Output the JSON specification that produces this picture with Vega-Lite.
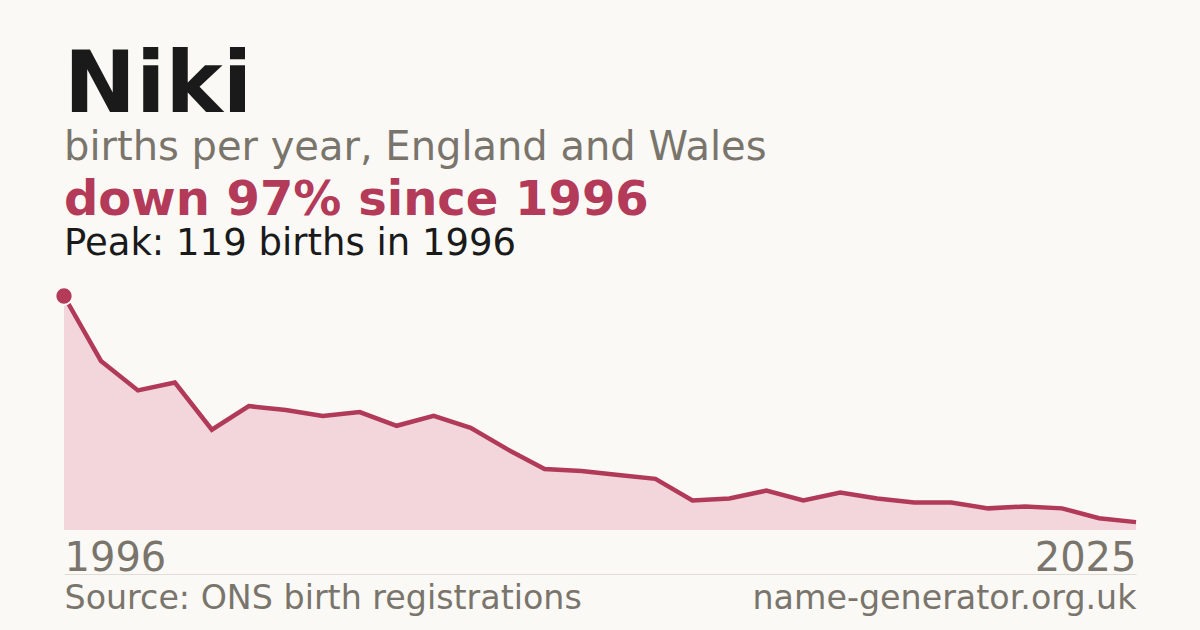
{
  "$schema": "https://vega.github.io/schema/vega-lite/v6.json",
  "width": 1072,
  "height": 234,
  "autosize": {"type": "none"},
  "padding": {"left": 64, "top": 296, "right": 64, "bottom": 100},
  "background": "#faf9f5",
  "title": {
    "text": "Niki",
    "subtitle": "births per year, England and Wales",
    "anchor": "start",
    "frame": "group",
    "font": "DejaVu Sans",
    "fontSize": 86,
    "fontWeight": "bold",
    "color": "#1a1a1a",
    "subtitleFont": "DejaVu Sans",
    "subtitleFontSize": 40,
    "subtitleColor": "#7a756c",
    "offset": 8,
    "subtitlePadding": -2
  },
  "config": {"view": {"stroke": null}},
  "data": {
    "values": [
      {"year": 1996, "births": 119},
      {"year": 1997, "births": 86},
      {"year": 1998, "births": 71},
      {"year": 1999, "births": 75},
      {"year": 2000, "births": 51},
      {"year": 2001, "births": 63},
      {"year": 2002, "births": 61},
      {"year": 2003, "births": 58},
      {"year": 2004, "births": 60},
      {"year": 2005, "births": 53},
      {"year": 2006, "births": 58},
      {"year": 2007, "births": 52},
      {"year": 2008, "births": 41},
      {"year": 2009, "births": 31},
      {"year": 2010, "births": 30},
      {"year": 2011, "births": 28},
      {"year": 2012, "births": 26},
      {"year": 2013, "births": 15},
      {"year": 2014, "births": 16},
      {"year": 2015, "births": 20},
      {"year": 2016, "births": 15},
      {"year": 2017, "births": 19},
      {"year": 2018, "births": 16},
      {"year": 2019, "births": 14},
      {"year": 2020, "births": 14},
      {"year": 2021, "births": 11},
      {"year": 2022, "births": 12},
      {"year": 2023, "births": 11},
      {"year": 2024, "births": 6},
      {"year": 2025, "births": 4}
    ]
  },
  "resolve": {"axis": {"x": "independent"}},
  "layer": [
    {
      "mark": {"type": "area", "color": "#f2d6dc", "opacity": 1},
      "encoding": {
        "x": {
          "field": "year", "type": "quantitative",
          "scale": {"domain": [1996, 2025], "nice": false, "zero": false},
          "axis": {
            "orient": "bottom", "values": [1996, 2025], "title": null,
            "domain": false, "ticks": false, "tickSize": 0, "grid": false,
            "labelFlush": true, "labelOverlap": false, "labelBound": false, "labelLimit": 0,
            "labelBaseline": "alphabetic", "labelPadding": 40,
            "labelFont": "DejaVu Sans", "labelFontSize": 40, "labelColor": "#7a756c",
            "format": "d"
          }
        },
        "y": {
          "field": "births", "type": "quantitative",
          "scale": {"domain": [0, 119], "nice": false},
          "axis": null
        }
      }
    },
    {
      "mark": {"type": "line", "color": "#b13a58", "strokeWidth": 4.5},
      "encoding": {
        "x": {
          "field": "year", "type": "quantitative",
          "axis": {
            "orient": "bottom", "offset": 44, "values": [1996, 2025], "title": null,
            "domain": true, "domainColor": "#e0ddd6", "domainWidth": 1,
            "ticks": false, "tickSize": 0, "grid": false,
            "labelFlush": true, "labelOverlap": false, "labelBound": false, "labelLimit": 0,
            "labelBaseline": "alphabetic", "labelPadding": 34,
            "labelFont": "DejaVu Sans", "labelFontSize": 33.3, "labelColor": "#7a756c",
            "labelExpr": "datum.value == 1996 ? 'Source: ONS birth registrations' : 'name-generator.org.uk'"
          }
        },
        "y": {"field": "births", "type": "quantitative"}
      }
    },
    {
      "transform": [{"filter": "datum.year == 1996"}],
      "mark": {"type": "point", "filled": true, "color": "#b33a58", "size": 300, "opacity": 1, "stroke": "#faf9f5", "strokeWidth": 2},
      "encoding": {
        "x": {"field": "year", "type": "quantitative", "axis": null},
        "y": {"field": "births", "type": "quantitative"}
      }
    },
    {
      "transform": [{"filter": "datum.year == 1996"}],
      "mark": {"type": "text", "align": "left", "baseline": "alphabetic", "dy": -81, "font": "DejaVu Sans", "fontSize": 48, "fontWeight": "bold", "color": "#b33a58"},
      "encoding": {
        "x": {"field": "year", "type": "quantitative", "axis": null},
        "y": {"field": "births", "type": "quantitative"},
        "text": {"value": "down 97% since 1996"}
      }
    },
    {
      "transform": [{"filter": "datum.year == 1996"}],
      "mark": {"type": "text", "align": "left", "baseline": "alphabetic", "dy": -41, "font": "DejaVu Sans", "fontSize": 37, "color": "#1a1a1a"},
      "encoding": {
        "x": {"field": "year", "type": "quantitative", "axis": null},
        "y": {"field": "births", "type": "quantitative"},
        "text": {"value": "Peak: 119 births in 1996"}
      }
    }
  ]
}
